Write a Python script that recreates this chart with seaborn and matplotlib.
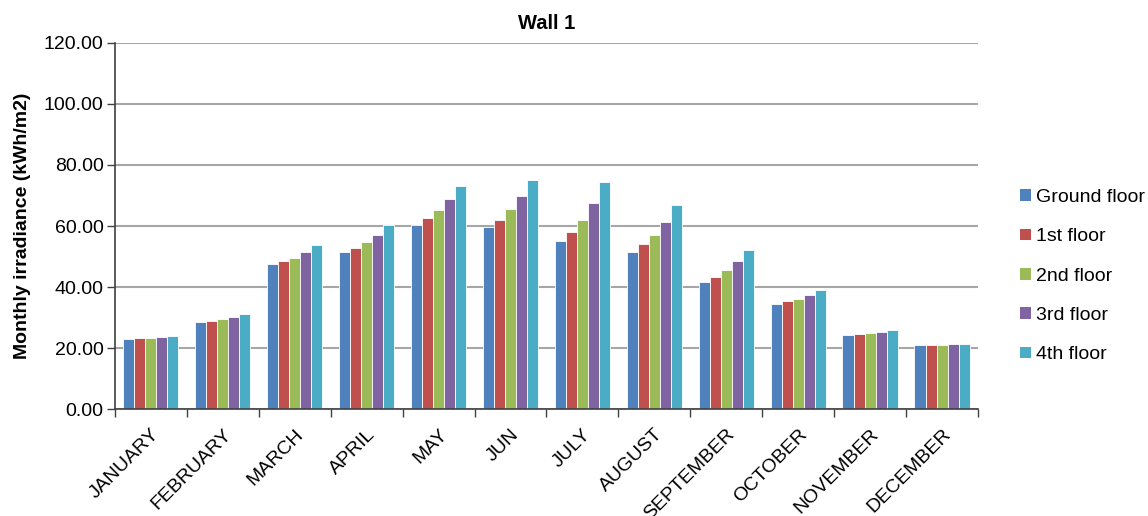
import matplotlib
matplotlib.use("Agg")
import matplotlib.pyplot as plt
import seaborn as sns
import pandas as pd
import numpy as np

months = ["JANUARY", "FEBRUARY", "MARCH", "APRIL", "MAY", "JUN", "JULY",
          "AUGUST", "SEPTEMBER", "OCTOBER", "NOVEMBER", "DECEMBER"]
floors = ["Ground floor", "1st floor", "2nd floor", "3rd floor", "4th floor"]

ground = [23.1, 28.5, 47.4, 51.4, 60.2, 59.7, 55.1, 51.6, 41.7, 34.5, 24.4, 20.9]
first = [23.2, 29.0, 48.4, 52.9, 62.5, 62.1, 58.0, 54.0, 43.4, 35.3, 24.6, 20.9]
second = [23.3, 29.5, 49.6, 54.8, 65.2, 65.6, 62.0, 57.0, 45.5, 36.2, 24.8, 21.0]
third = [23.7, 30.3, 51.5, 57.0, 68.9, 69.8, 67.5, 61.3, 48.4, 37.5, 25.2, 21.2]
fourth = [24.0, 31.1, 53.8, 60.2, 73.2, 75.1, 74.4, 66.9, 52.1, 39.2, 25.8, 21.5]

colors = ["#4F81BD", "#C0504D", "#9BBB59", "#8064A2", "#4BACC6"]

series = [ground, first, second, third, fourth]
df = pd.DataFrame({
    "month": np.repeat([months], len(floors), axis=0).ravel(),
    "floor": np.repeat(floors, len(months)),
    "value": np.concatenate(series),
})

sns.set_theme(style="white")
plt.rcParams["font.family"] = ["Liberation Sans", "DejaVu Sans"]
plt.rcParams["text.color"] = "black"
plt.rcParams["xtick.color"] = "black"
plt.rcParams["ytick.color"] = "black"
plt.rcParams["axes.labelcolor"] = "black"

fig = plt.figure(figsize=(11.48, 5.16), dpi=100)
ax = fig.add_axes([0.100, 0.207, 0.752, 0.710])

sns.barplot(data=df, x="month", y="value", hue="floor", order=months,
            hue_order=floors, palette=colors, width=0.77, saturation=1,
            edgecolor="white", linewidth=0.6, ax=ax, errorbar=None)

ax.set_ylim(0, 120)
ax.set_xlim(-0.5, len(months) - 0.5)
ax.set_yticks(np.arange(0, 121, 20))
ax.set_yticklabels([f"{v:.2f}" for v in np.arange(0, 121, 20)], fontsize=14)
ax.yaxis.grid(True, color="#A6A6A6", linewidth=1.5)
ax.set_axisbelow(True)

# category boundaries carry the x tick marks
ax.set_xticks(np.arange(len(months)))
ax.set_xticklabels(months, rotation=45, ha="right", rotation_mode="anchor",
                   fontsize=14)
ax.tick_params(axis="x", length=0, pad=12)
ax.set_xticks(np.arange(-0.5, len(months)), minor=True)
ax.tick_params(axis="x", which="minor", length=6, width=1, color="#404040",
               direction="out", bottom=True)
ax.tick_params(axis="y", length=6, width=1, color="#404040", direction="out",
               left=True, pad=2)

for side in ["top", "right"]:
    ax.spines[side].set_visible(False)
for side in ["left", "bottom"]:
    ax.spines[side].set_color("#404040")
    ax.spines[side].set_linewidth(1.2)

ax.set_xlabel("")
ax.set_ylabel("Monthly irradiance (kWh/m2)", fontsize=14, fontweight="bold",
              labelpad=9)
ax.set_title("Wall 1", fontsize=14.5, fontweight="bold", pad=10)

leg = ax.legend(loc="center left", bbox_to_anchor=(1.0, 0.363), frameon=False,
                fontsize=14, handlelength=0.55, handleheight=0.55,
                handletextpad=0.3, labelspacing=1.15, borderaxespad=1.75)
for h in leg.legend_handles:
    h.set_edgecolor("none")

fig.savefig("out.png", dpi=100)
